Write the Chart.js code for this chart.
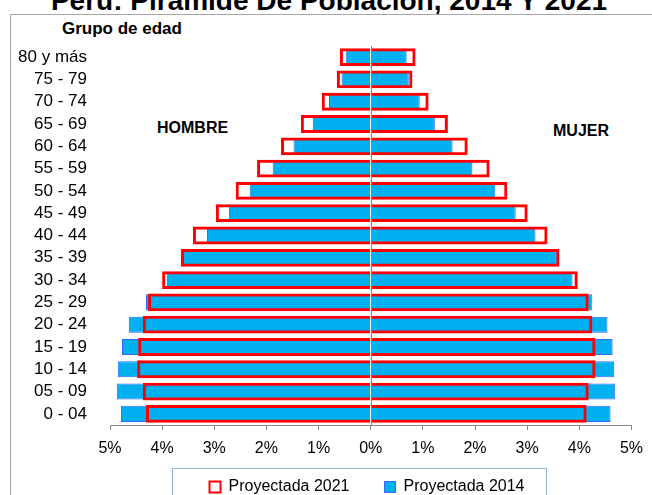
<!DOCTYPE html>
<html lang="es">
<head>
<meta charset="utf-8">
<title>Perú: Pirámide de Población</title>
<script src="https://cdn.jsdelivr.net/npm/chart.js@4.4.1/dist/chart.umd.min.js"></script>
<style>
  html, body { margin: 0; padding: 0; background: #fff; }
  body { position: relative; width: 652px; height: 495px; overflow: hidden; font-family: "Liberation Sans", Arial, sans-serif; color: #000; }
  #titulo { position: absolute; left: 0; top: -13px; width: 658px; text-align: center; font-weight: bold; font-size: 28px; line-height: 28px; white-space: nowrap; }
  #marco { position: absolute; left: 10px; top: 14px; width: 700px; height: 600px; border-left: 1px solid #a6a6a6; border-top: 1px solid #a6a6a6; }
  #cajaLeyenda { position: absolute; left: 172px; top: 468px; width: 373px; height: 60px; border: 1px solid #95b3d7; }
  .etq { position: absolute; font-weight: bold; line-height: 20px; white-space: nowrap; }
  #grafico { position: absolute; left: 0; top: 0; }
</style>
</head>
<body>
<div id="titulo">Perú: Pirámide De Población, 2014 Y 2021</div>
<div id="marco"></div>
<div id="cajaLeyenda"></div>
<div class="etq" style="left:62px; top:19px; font-size:17px;">Grupo de edad</div>
<div class="etq" style="left:157px; top:118px; font-size:16px;">HOMBRE</div>
<div class="etq" style="left:553px; top:121px; font-size:16px;">MUJER</div>
<canvas id="grafico" width="652" height="520"></canvas>
<script>
const gruposEdad = ["80 y más", "75 - 79", "70 - 74", "65 - 69", "60 - 64", "55 - 59", "50 - 54", "45 - 49",
  "40 - 44", "35 - 39", "30 - 34", "25 - 29", "20 - 24", "15 - 19", "10 - 14", "05 - 09", "0 - 04"];

// porcentaje de la poblacion total
const hombres2021 = [0.59, 0.65, 0.94, 1.34, 1.72, 2.18, 2.59, 2.97, 3.41, 3.64, 4.00, 4.27, 4.37, 4.46, 4.48, 4.37, 4.31];
const mujeres2021 = [0.86, 0.80, 1.11, 1.48, 1.86, 2.28, 2.62, 3.01, 3.39, 3.62, 3.97, 4.18, 4.25, 4.31, 4.31, 4.18, 4.14];
const hombres2014 = [0.48, 0.56, 0.80, 1.11, 1.48, 1.88, 2.32, 2.72, 3.14, 3.60, 3.91, 4.31, 4.64, 4.77, 4.85, 4.87, 4.79];
const mujeres2014 = [0.69, 0.73, 0.94, 1.23, 1.57, 1.95, 2.39, 2.78, 3.16, 3.57, 3.87, 4.25, 4.54, 4.64, 4.67, 4.69, 4.60];

const ejeTicks = [-5, -4, -3, -2, -1, 0, 1, 2, 3, 4, 5];

const ROJO = "#ff0000";
const CELESTE = "#00b0f0";
const AZUL = "#3366ff";
const GRIS = "#868686";

function serie(label, data, tipo) {
  const rojo = tipo === "2021";
  return {
    label,
    data,
    grouped: false,
    categoryPercentage: 1,
    barPercentage: rojo ? 0.8 : 0.72,
    backgroundColor: rojo ? "rgba(0,0,0,0)" : CELESTE,
    borderColor: rojo ? ROJO : AZUL,
    borderWidth: rojo ? 3 : 1,
    borderSkipped: "start"
  };
}

// linea vertical en el 0%, encima de las barras
const lineaCero = {
  id: "lineaCero",
  afterDatasetsDraw(chart) {
    const { ctx, chartArea, scales } = chart;
    const x = Math.round(scales.x.getPixelForValue(0)) + 0.5;
    ctx.save();
    ctx.strokeStyle = GRIS;
    ctx.lineWidth = 1;
    ctx.beginPath();
    ctx.moveTo(x, chartArea.top);
    ctx.lineTo(x, chartArea.bottom);
    ctx.stroke();
    ctx.restore();
  }
};

// la leyenda va dentro de su recuadro, algo mas arriba y a la derecha
const posLeyenda = {
  id: "posLeyenda",
  afterLayout(chart) {
    const l = chart.legend;
    if (!l) return;
    l.top -= 12;
    l.bottom -= 12;
    l.left = 102;
  }
};

const ctx = document.getElementById("grafico").getContext("2d");
new Chart(ctx, {
  type: "bar",
  data: {
    labels: gruposEdad,
    datasets: [
      serie("Proyectada 2021", hombres2021.map(v => -v), "2021"),
      serie("Proyectada 2021", mujeres2021, "2021"),
      serie("Proyectada 2014", hombres2014.map(v => -v), "2014"),
      serie("Proyectada 2014", mujeres2014, "2014")
    ]
  },
  options: {
    indexAxis: "y",
    responsive: false,
    animation: false,
    layout: { padding: { top: 46, left: 0, right: 20, bottom: 3 } },
    scales: {
      x: {
        min: -5,
        max: 5,
        afterBuildTicks: scale => { scale.ticks = ejeTicks.map(v => ({ value: v })); },
        afterFit: scale => { scale.height = 31; },
        border: { display: true, color: GRIS, width: 1 },
        grid: { drawOnChartArea: false, drawTicks: true, tickLength: 5, color: GRIS },
        ticks: {
          padding: 9,
          color: "#000",
          font: { family: "'Liberation Sans', Arial", size: 16 },
          callback: v => Math.abs(v) + "%"
        }
      },
      y: {
        afterFit: scale => { scale.width = 110; },
        border: { display: false },
        grid: { display: false, drawTicks: false },
        ticks: {
          padding: 23,
          color: "#000",
          autoSkip: false,
          font: { family: "'Liberation Sans', Arial", size: 17 }
        }
      }
    },
    plugins: {
      tooltip: { enabled: false },
      legend: {
        position: "bottom",
        labels: {
          boxWidth: 11,
          boxHeight: 11,
          padding: 35,
          color: "#000",
          font: { family: "'Liberation Sans', Arial", size: 16 },
          generateLabels: chart => Chart.defaults.plugins.legend.labels.generateLabels(chart)
            .filter(item => item.datasetIndex === 0 || item.datasetIndex === 2)
            .map(item => Object.assign(item, { lineWidth: item.datasetIndex === 0 ? 2 : 1 }))
        }
      }
    }
  },
  plugins: [lineaCero, posLeyenda]
});
</script>
</body>
</html>
